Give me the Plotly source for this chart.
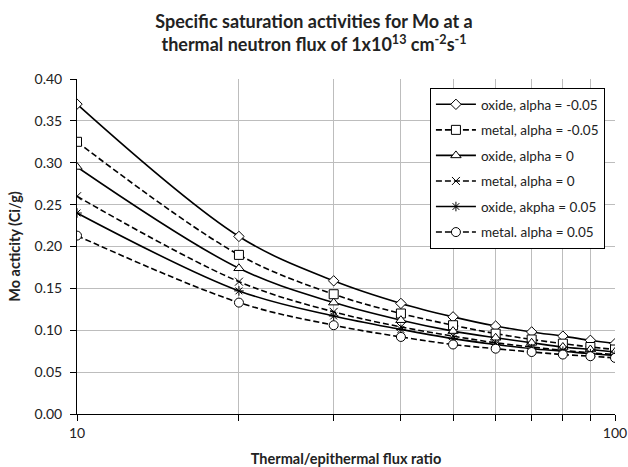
import plotly.graph_objects as go

ratio = [10, 20, 30, 40, 50, 60, 70, 80, 90, 100]

oxide_m005 = [0.370, 0.212, 0.159, 0.132, 0.116, 0.105, 0.098, 0.093, 0.088, 0.084]
metal_m005 = [0.325, 0.190, 0.143, 0.120, 0.106, 0.096, 0.089, 0.084, 0.080, 0.077]
oxide_0 = [0.295, 0.174, 0.133, 0.112, 0.099, 0.091, 0.085, 0.080, 0.077, 0.074]
metal_0 = [0.260, 0.158, 0.122, 0.104, 0.093, 0.085, 0.080, 0.076, 0.073, 0.071]
oxide_005 = [0.240, 0.147, 0.117, 0.101, 0.090, 0.083, 0.078, 0.075, 0.072, 0.070]
metal_005 = [0.213, 0.133, 0.106, 0.092, 0.083, 0.078, 0.074, 0.071, 0.069, 0.067]

series_names = [
    "oxide, alpha = -0.05",
    "metal, alpha = -0.05",
    "oxide, alpha = 0",
    "metal, alpha = 0",
    "oxide, akpha = 0.05",
    "metal. alpha = 0.05",
]
series_values = [oxide_m005, metal_m005, oxide_0, metal_0, oxide_005, metal_005]

x_tickvals = [10, 20, 30, 40, 50, 60, 70, 80, 90, 100]
x_ticktext = ["10", "", "", "", "", "", "", "", "", "100"]
y_tickvals = [0.0, 0.05, 0.10, 0.15, 0.20, 0.25, 0.30, 0.35, 0.40]

styles = [
    dict(symbol="diamond", size=8, dash="solid"),
    dict(symbol="square", size=9, dash="dash"),
    dict(symbol="triangle-up", size=9, dash="solid"),
    dict(symbol="x-thin", size=8, dash="dash"),
    dict(symbol="asterisk", size=8, dash="solid"),
    dict(symbol="circle", size=9, dash="dash"),
]

fig = go.Figure()
for i, (name, vals, st) in enumerate(zip(series_names, series_values, styles)):
    thin = st["symbol"] in ("x-thin", "asterisk")
    fig.add_trace(go.Scatter(
        x=ratio, y=vals, name=name, mode="lines+markers",
        legendgroup="g%d" % i,
        line=dict(color="black", width=1.6, shape="spline",
                  dash="6px,3px" if st["dash"] == "dash" else "solid"),
        marker=dict(symbol=st["symbol"], size=st["size"],
                    color="black" if thin else "white",
                    line=dict(color="black", width=1)),
    ))

font_family = "Lato, Open Sans, sans-serif"

fig.update_layout(
    width=628, height=467,
    margin=dict(l=77, r=13, t=79, b=53),
    paper_bgcolor="white", plot_bgcolor="white",
    font=dict(family=font_family, color="#222", size=14),
    title=dict(
        text="<b>Specific saturation activities for Mo at a<br>thermal neutron flux of 1x10<sup>13</sup> cm<sup>-2</sup>s<sup>-1</sup></b>",
        x=0.5, xref="container", xanchor="center", y=0.940, yref="container", yanchor="top",
        font=dict(size=18, family=font_family, color="#222"),
    ),
    legend=dict(
        x=0.656, y=0.973, xanchor="left", yanchor="top",
        bordercolor="black", borderwidth=1, bgcolor="white",
        font=dict(size=13.5, family=font_family, color="#222"),
        tracegroupgap=5, itemwidth=40,
    ),
    showlegend=True,
)

fig.update_xaxes(
    type="log", range=[1, 2],
    tickvals=x_tickvals, ticktext=x_ticktext,
    showgrid=True, gridcolor="#bdbdbd", gridwidth=1,
    showline=True, linecolor="black", linewidth=1,
    ticks="outside", ticklen=6, tickcolor="black",
    tickfont=dict(size=14),
    title=dict(text="<b>Thermal/epithermal flux ratio</b>", font=dict(size=14.5), standoff=14),
    zeroline=False, mirror=False, automargin=False,
)
fig.update_yaxes(
    range=[0, 0.40],
    tickvals=y_tickvals, tickformat=".2f",
    showgrid=True, gridcolor="#bdbdbd", gridwidth=1,
    showline=True, linecolor="black", linewidth=1,
    ticks="outside", ticklen=6, tickcolor="black",
    tickfont=dict(size=14), ticklabelstandoff=5,
    title=dict(text="<b>Mo acticity (Ci/g)</b>", font=dict(size=14.5), standoff=10),
    zeroline=False, automargin=False,
)

fig.write_html(
    "out.html",
    config={"displayModeBar": False},
    post_script="document.body.style.margin='0';document.body.style.overflow='hidden';",
)
